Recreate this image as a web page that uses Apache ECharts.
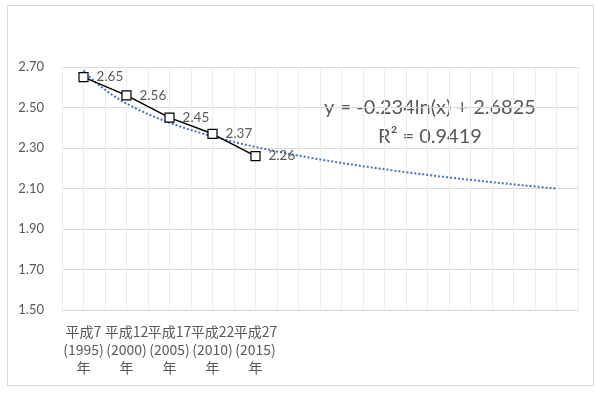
<!DOCTYPE html>
<html>
<head>
<meta charset="utf-8">
<script src="https://cdn.jsdelivr.net/npm/echarts@6/dist/echarts.min.js"></script>
<style>
html,body{margin:0;padding:0;background:#fff;}
#frame{position:absolute;left:7px;top:5px;width:587px;height:381px;border:1px solid #D9D9D9;box-sizing:border-box;}
#chart{position:absolute;left:0;top:0;width:596px;height:394px;}
</style>
</head>
<body>
<div id="frame"></div>
<div id="chart"></div>
<script>
// Categories (x labels) and values
const categories = ["平成7\n(1995)\n年", "平成12\n(2000)\n年", "平成17\n(2005)\n年", "平成22\n(2010)\n年", "平成27\n(2015)\n年"];
const values = [2.65, 2.56, 2.45, 2.37, 2.26];
const forecastPeriods = 7;         // trendline extended forward
const yTicks = [1.50, 1.70, 1.90, 2.10, 2.30, 2.50, 2.70];
const equationText = "y = -0.234ln(x) + 2.6825";
const r2Text = "R² = 0.9419";

// Logarithmic least-squares fit (as the spreadsheet trendline does)
const xs = values.map((v, i) => i + 1);
const lx = xs.map(x => Math.log(x));
const mx = lx.reduce((a, b) => a + b, 0) / lx.length;
const my = values.reduce((a, b) => a + b, 0) / values.length;
let sxy = 0, sxx = 0;
lx.forEach((l, i) => { sxy += (l - mx) * (values[i] - my); sxx += (l - mx) * (l - mx); });
const slope = sxy / sxx;
const intercept = my - slope * mx;
const lastX = values.length + forecastPeriods;
const trend = [];
for (let k = 0; k <= 220; k++) {
  const x = 1 + (lastX - 1) * k / 220;
  trend.push([x, intercept + slope * Math.log(x)]);
}

const chart = echarts.init(document.getElementById('chart'));
const numFont = 'Lato, "Noto Sans", sans-serif';
chart.setOption({
  animation: false,
  grid: { left: 62, right: 18, top: 67, bottom: 84 },
  xAxis: {
    type: 'value',
    min: 0.5,
    max: lastX + 0.5,
    interval: 0.5,
    axisLine: { show: true, lineStyle: { color: '#D9D9D9', width: 1 } },
    axisTick: { show: false },
    splitLine: { show: true, lineStyle: { color: '#EDEDED', width: 1 } },
    axisLabel: {
      margin: 13,
      color: '#595959',
      fontSize: 14,
      lineHeight: 18,
      fontFamily: '"Noto Sans CJK JP", sans-serif',
      formatter: function (v) {
        if (Number.isInteger(v) && categories[v - 1]) return categories[v - 1];
        return '';
      }
    }
  },
  yAxis: {
    type: 'value',
    min: yTicks[0],
    max: yTicks[yTicks.length - 1],
    interval: 0.2,
    axisLine: { show: false },
    axisTick: { show: false },
    splitLine: { lineStyle: { color: '#D9D9D9', width: 1 } },
    axisLabel: {
      margin: 18,
      color: '#595959',
      fontSize: 13,
      fontFamily: numFont,
      formatter: v => v.toFixed(2)
    }
  },
  series: [
    {
      type: 'line',
      data: trend,
      showSymbol: false,
      symbol: 'none',
      lineStyle: { color: '#4472C4', width: 2, type: [2, 2] },
      z: 1,
      silent: true
    },
    {
      type: 'line',
      data: values.map((v, i) => [i + 1, v]),
      symbol: 'rect',
      symbolSize: 9,
      itemStyle: { color: '#FFFFFF', borderColor: '#000000', borderWidth: 1.2 },
      lineStyle: { color: '#000000', width: 1.5 },
      label: {
        show: true,
        position: 'right',
        distance: 8,
        color: '#595959',
        fontSize: 13.5,
        fontFamily: numFont,
        formatter: p => p.value[1].toFixed(2)
      },
      z: 3
    }
  ],
  graphic: [
    {
      type: 'text', x: 430, y: 108,
      style: { text: equationText, fill: '#595959', font: '20px ' + numFont, align: 'center', verticalAlign: 'middle' }
    },
    {
      type: 'text', x: 430, y: 137,
      style: { text: r2Text, fill: '#595959', font: '20px ' + numFont, align: 'center', verticalAlign: 'middle' }
    }
  ]
});
</script>
</body>
</html>
